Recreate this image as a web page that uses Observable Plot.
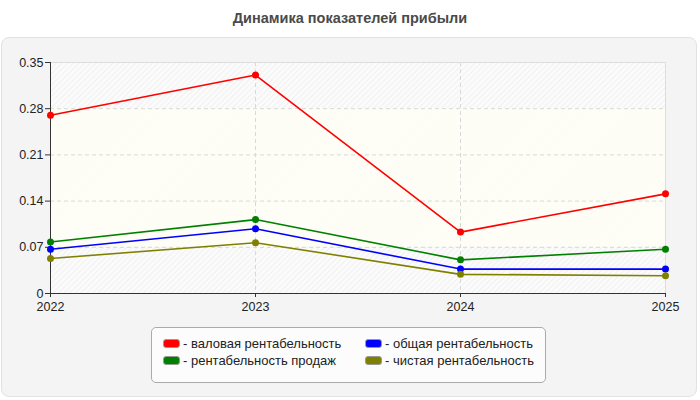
<!DOCTYPE html>
<html><head><meta charset="utf-8">
<script src="https://cdn.jsdelivr.net/npm/d3@7"></script>
<script src="https://cdn.jsdelivr.net/npm/@observablehq/plot@0.6"></script>
<style>
body{margin:0;background:#fff;font-family:"Liberation Sans",Arial,sans-serif;width:700px;height:400px;position:relative;overflow:hidden}
#title{position:absolute;top:10px;left:0;width:700px;text-align:center;font-weight:bold;font-size:14.5px;color:#4a4a4a}
#panel{position:absolute;top:37px;left:1px;width:696px;height:360px;background:#f4f4f4;border:1px solid #e2e2e2;border-radius:8px;box-sizing:border-box}
#chart{position:absolute;top:0;left:0}
#legend{position:absolute;left:151px;top:327px;width:395px;height:56px;background:#fcfcfc;border:1px solid #aaa;border-radius:5px;box-sizing:border-box;font-size:13px;color:#222}
.item{position:absolute;display:flex;align-items:center;white-space:nowrap}
.sw{width:15px;height:7px;border:1px solid #999;border-radius:3px;margin-right:3px}
</style></head>
<body>
<div id="title">Динамика показателей прибыли</div>
<div id="panel"></div>
<div id="chart"></div>
<div id="legend"></div>
<script>
const years = [2022, 2023, 2024, 2025];
const seriesNames = ["валовая рентабельность", "общая рентабельность", "рентабельность продаж", "чистая рентабельность"];
const seriesColors = ["#ff0000", "#0000ff", "#008000", "#808000"];
const gross = [0.27, 0.331, 0.093, 0.151];
const total = [0.067, 0.098, 0.037, 0.037];
const sales = [0.078, 0.112, 0.051, 0.067];
const net = [0.053, 0.077, 0.029, 0.027];
const yTicks = [0, 0.07, 0.14, 0.21, 0.28, 0.35];
const yTickLabels = ["0", "0.07", "0.14", "0.21", "0.28", "0.35"];

const seriesValues = [gross, total, sales, net];
const data = [];
seriesNames.forEach((n, i) => years.forEach((y, j) => data.push({series: n, year: y, value: seriesValues[i][j]})));
const order = ["валовая рентабельность", "рентабельность продаж", "общая рентабельность", "чистая рентабельность"];

const chart = Plot.plot({
  width: 700, height: 320,
  marginLeft: 50, marginRight: 35, marginTop: 62, marginBottom: 27,
  style: {background: "transparent", fontSize: "12.5px", fontFamily: "Liberation Sans, Arial, sans-serif", color: "#222", overflow: "visible"},
  x: {domain: [2022, 2025], label: null},
  y: {domain: [0, 0.35], label: null},
  color: {domain: seriesNames, range: seriesColors},
  marks: [
    Plot.rect([{}], {x1: 2022, x2: 2025, y1: 0, y2: 0.35, fill: "url(#hatch)"}),
    Plot.rect([{}], {x1: 2022, x2: 2025, y1: 0.07, y2: 0.28, fill: "#fffff6", fillOpacity: 0.8}),
    Plot.gridY(yTicks.slice(1, 5), {stroke: "#d8d8d8", strokeOpacity: 1, strokeDasharray: "4,3"}),
    Plot.gridX([2023, 2024], {stroke: "#d8d8d8", strokeOpacity: 1, strokeDasharray: "4,3"}),
    Plot.ruleY([0.35], {stroke: "#dddddd"}),
    Plot.ruleX([2025], {stroke: "#dddddd"}),
    Plot.axisY({ticks: yTicks, tickFormat: d => yTickLabels[yTicks.indexOf(d)], tickSize: 5, tickPadding: 2, stroke: "#333", label: null, fontSize: 12.5}),
    Plot.axisX({ticks: years, tickFormat: d => String(d), tickSize: 4, stroke: "#333", label: null, fontSize: 12.5, tickPadding: 5}),
    Plot.ruleX([2022], {stroke: "#333"}),
    Plot.ruleY([0], {stroke: "#333"}),
    Plot.line(data, {x: "year", y: "value", z: "series", stroke: "series", strokeWidth: 1.6, sort: {z: d => order.indexOf(d)}}),
    Plot.dot(data, {x: "year", y: "value", fill: "series", r: 3.5})
  ]
});
const svg = d3.select(chart);
const defs = svg.insert("defs", ":first-child");
const pat = defs.append("pattern").attr("id", "hatch").attr("patternUnits", "userSpaceOnUse").attr("width", 4).attr("height", 4).attr("patternTransform", "rotate(45)");
pat.append("rect").attr("width", 4).attr("height", 4).attr("fill", "#fbfbfb");
pat.append("line").attr("x1", 0).attr("y1", 0).attr("x2", 0).attr("y2", 4).attr("stroke", "#e8e8e8").attr("stroke-width", 1);
document.getElementById("chart").appendChild(chart);

const legend = document.getElementById("legend");
const pos = [[11, 8], [213, 8], [11, 25], [213, 25]];
const legOrder = ["валовая рентабельность", "общая рентабельность", "рентабельность продаж", "чистая рентабельность"];
legOrder.forEach((n, i) => {
  const d = document.createElement("div");
  d.className = "item";
  d.style.left = pos[i][0] + "px"; d.style.top = pos[i][1] + "px";
  const sw = document.createElement("div"); sw.className = "sw";
  sw.style.background = seriesColors[seriesNames.indexOf(n)];
  d.appendChild(sw);
  d.appendChild(document.createTextNode("- " + n));
  legend.appendChild(d);
});
</script>
</body></html>
